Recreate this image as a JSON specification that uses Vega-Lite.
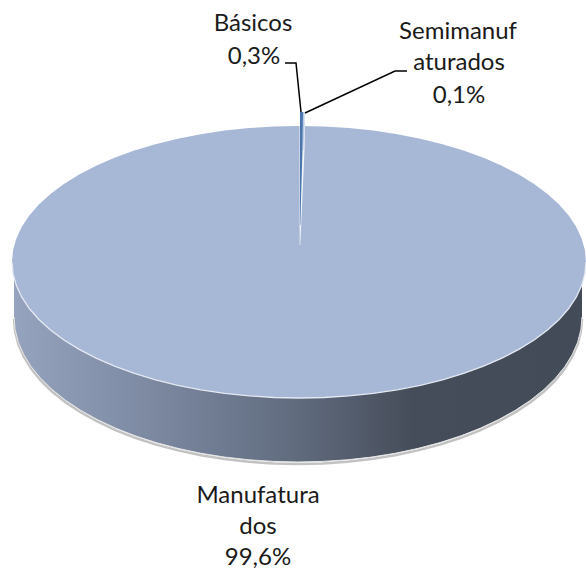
{"$schema":"https://vega.github.io/schema/vega-lite/v6.json","width":586,"height":571,"padding":0,"autosize":{"type":"none"},"background":"white","view":{"stroke":null},
"datasets":{
"top":[{"x":12,"t":262,"b":262},{"x":13.1,"t":250.1,"b":273.9},{"x":16.4,"t":238.4,"b":285.6},{"x":21.8,"t":226.8,"b":297.2},{"x":29.3,"t":215.5,"b":308.5},{"x":38.9,"t":204.5,"b":319.5},{"x":50.5,"t":194,"b":330},{"x":63.9,"t":184,"b":340},{"x":79.2,"t":174.6,"b":349.4},{"x":96.1,"t":165.8,"b":358.2},{"x":114.5,"t":157.8,"b":366.2},{"x":134.4,"t":150.6,"b":373.4},{"x":155.5,"t":144.2,"b":379.8},{"x":177.7,"t":138.7,"b":385.3},{"x":200.8,"t":134.2,"b":389.8},{"x":224.7,"t":130.6,"b":393.4},{"x":249.2,"t":128.1,"b":395.9},{"x":274,"t":126.5,"b":397.5},{"x":299,"t":126,"b":398},{"x":324,"t":126.5,"b":397.5},{"x":348.8,"t":128.1,"b":395.9},{"x":373.3,"t":130.6,"b":393.4},{"x":397.2,"t":134.2,"b":389.8},{"x":420.3,"t":138.7,"b":385.3},{"x":442.5,"t":144.2,"b":379.8},{"x":463.6,"t":150.6,"b":373.4},{"x":483.5,"t":157.8,"b":366.2},{"x":501.9,"t":165.8,"b":358.2},{"x":518.8,"t":174.6,"b":349.4},{"x":534.1,"t":184,"b":340},{"x":547.5,"t":194,"b":330},{"x":559.1,"t":204.5,"b":319.5},{"x":568.7,"t":215.5,"b":308.5},{"x":576.2,"t":226.8,"b":297.2},{"x":581.6,"t":238.4,"b":285.6},{"x":584.9,"t":250.1,"b":273.9},{"x":586,"t":262,"b":262}],
"side":[{"x":14,"t":262,"b":317},{"x":15.1,"t":262,"b":329.6},{"x":18.3,"t":262,"b":342.2},{"x":23.7,"t":262,"b":354.5},{"x":31.1,"t":262,"b":366.6},{"x":40.6,"t":262,"b":378.3},{"x":52,"t":262,"b":389.5},{"x":65.4,"t":262,"b":400.2},{"x":80.5,"t":262,"b":410.2},{"x":97.2,"t":262,"b":419.5},{"x":115.4,"t":262,"b":428.1},{"x":135.1,"t":262,"b":435.8},{"x":156,"t":262,"b":442.6},{"x":178,"t":262,"b":448.4},{"x":200.9,"t":262,"b":453.3},{"x":224.5,"t":262,"b":457.1},{"x":248.7,"t":262,"b":459.8},{"x":273.2,"t":262,"b":461.4},{"x":298,"t":262,"b":462},{"x":322.8,"t":262,"b":461.4},{"x":347.3,"t":262,"b":459.8},{"x":371.5,"t":262,"b":457.1},{"x":395.1,"t":262,"b":453.3},{"x":418,"t":262,"b":448.4},{"x":440,"t":262,"b":442.6},{"x":461,"t":262,"b":435.8},{"x":480.6,"t":262,"b":428.1},{"x":498.8,"t":262,"b":419.5},{"x":515.5,"t":262,"b":410.2},{"x":530.6,"t":262,"b":400.2},{"x":544,"t":262,"b":389.5},{"x":555.4,"t":262,"b":378.3},{"x":564.9,"t":262,"b":366.6},{"x":572.3,"t":262,"b":354.5},{"x":577.7,"t":262,"b":342.2},{"x":580.9,"t":262,"b":329.6},{"x":582,"t":262,"b":317}],
"sliver":[{"y":120,"a":299.5,"c":305},{"y":150,"a":299.5,"c":304.5},{"y":245,"a":299.7,"c":300.3}],
"basicos":[{"y":112,"a":300,"c":303},{"y":150,"a":300,"c":302.5},{"y":200,"a":300,"c":301},{"y":225,"a":300,"c":300.4}],
"semi":[{"y":112,"a":303,"c":304.5},{"y":126,"a":303,"c":304.5},{"y":150,"a":302.6,"c":303.4}],
"leaders":[{"s":"Básicos","i":1,"x":285,"y":63},{"s":"Básicos","i":2,"x":296,"y":63},{"s":"Básicos","i":3,"x":301,"y":112},{"s":"Semimanufaturados","i":1,"x":305,"y":113},{"s":"Semimanufaturados","i":2,"x":395,"y":71},{"s":"Semimanufaturados","i":3,"x":407,"y":71}],
"labels":[{"x":253,"y":24,"text":"Básicos"},{"x":254,"y":57,"text":"0,3%"},{"x":458,"y":32,"text":"Semimanuf"},{"x":459,"y":63,"text":"aturados"},{"x":459,"y":96,"text":"0,1%"},{"x":258,"y":496,"text":"Manufatura"},{"x":258,"y":527,"text":"dos"},{"x":258,"y":558,"text":"99,6%"}]
},
"layer":[
{"data":{"name":"side"},"mark":{"type":"line","color":"#8f8f8f","strokeWidth":2.5,"opacity":0.55,"yOffset":2},"encoding":{"x":{"field":"x","type":"quantitative","scale":{"domain":[0,586],"nice":false,"zero":false},"axis":null},"y":{"field":"b","type":"quantitative","scale":{"domain":[571,0],"nice":false,"zero":false},"axis":null}}},
{"data":{"name":"side"},"mark":{"type":"area","color":{"gradient":"linear","x1":0,"y1":0,"x2":1,"y2":0,"stops":[{"offset":0,"color":"#95A3BE"},{"offset":0.25,"color":"#7B88A0"},{"offset":0.5,"color":"#606B7E"},{"offset":0.7,"color":"#464D5A"},{"offset":1,"color":"#444B58"}]}},"encoding":{"x":{"field":"x","type":"quantitative"},"y":{"field":"t","type":"quantitative"},"y2":{"field":"b"}}},
{"data":{"name":"side"},"mark":{"type":"line","color":"#e6e6e6","strokeWidth":1},"encoding":{"x":{"field":"x","type":"quantitative"},"y":{"field":"b","type":"quantitative"}}},
{"data":{"name":"top"},"mark":{"type":"area","color":"#A7B7D6"},"encoding":{"x":{"field":"x","type":"quantitative"},"y":{"field":"t","type":"quantitative"},"y2":{"field":"b"}}},
{"data":{"name":"top"},"mark":{"type":"line","color":"#E4E9F2","strokeWidth":1.3},"encoding":{"x":{"field":"x","type":"quantitative"},"y":{"field":"b","type":"quantitative"}}},
{"data":{"name":"sliver"},"mark":{"type":"area","orient":"horizontal","color":"#F2F5FA"},"encoding":{"y":{"field":"y","type":"quantitative"},"x":{"field":"a","type":"quantitative"},"x2":{"field":"c"}}},
{"data":{"name":"semi"},"mark":{"type":"area","orient":"horizontal","color":"#B9CCE6"},"encoding":{"y":{"field":"y","type":"quantitative"},"x":{"field":"a","type":"quantitative"},"x2":{"field":"c"}}},
{"data":{"name":"basicos"},"mark":{"type":"area","orient":"horizontal","color":"#4A76AE"},"encoding":{"y":{"field":"y","type":"quantitative"},"x":{"field":"a","type":"quantitative"},"x2":{"field":"c"}}},
{"data":{"name":"leaders"},"mark":{"type":"line","color":"#000000","strokeWidth":1.5},"encoding":{"x":{"field":"x","type":"quantitative"},"y":{"field":"y","type":"quantitative"},"detail":{"field":"s"},"order":{"field":"i","type":"quantitative"}}},
{"data":{"name":"labels"},"mark":{"type":"text","font":"Lato","fontSize":24,"color":"#1a1a1a","align":"center","baseline":"middle"},"encoding":{"x":{"field":"x","type":"quantitative"},"y":{"field":"y","type":"quantitative"},"text":{"field":"text"}}}
]}
